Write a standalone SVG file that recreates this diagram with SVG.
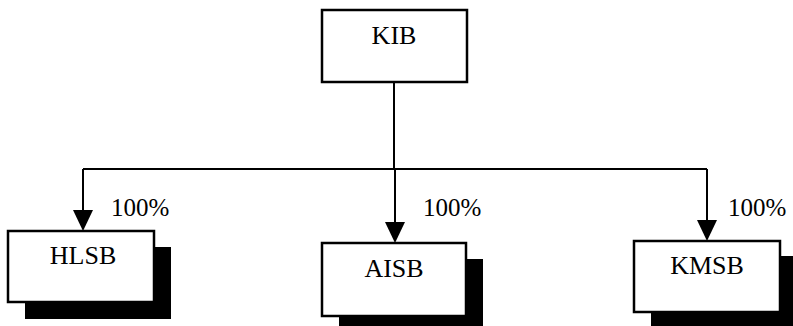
<svg xmlns="http://www.w3.org/2000/svg" width="793" height="326" viewBox="0 0 793 326">
  <style>
    .box { fill: #fff; stroke: #000; stroke-width: 2.5; }
    .shadow { fill: #000; }
    .wire { fill: none; stroke: #000; stroke-width: 2; }
    .head { fill: #000; }
    .label { font-size: 26px; text-anchor: middle; fill: #000; }
    .pct { font-size: 25px; fill: #000; }
  </style>
  <rect width="793" height="326" fill="#fff"/>

  <!-- ownership connectors with their percentage labels -->
  <g id="connectors">
    <path class="wire" d="M394,82 V169"/>
    <path class="wire" d="M83,169 H707"/>
    <path class="wire" d="M83,169 V212"/>
    <path class="wire" d="M395,169 V224"/>
    <path class="wire" d="M707,169 V222"/>
    <path class="head" d="M73,210 L93,210 L83,231 Z"/>
    <path class="head" d="M385,222 L405,222 L395,243 Z"/>
    <path class="head" d="M697,220 L717,220 L707,241 Z"/>
    <text class="pct" x="111" y="216" font-family="Liberation Serif">100%</text>
    <text class="pct" x="423" y="216" font-family="Liberation Serif">100%</text>
    <text class="pct" x="728" y="216" font-family="Liberation Serif">100%</text>
  </g>

  <g id="KIB">
    <rect class="box" x="322" y="10" width="145" height="72"/>
    <text class="label" x="394" y="44" font-family="Liberation Serif">KIB</text>
  </g>

  <g id="HLSB">
    <rect class="shadow" x="25" y="247" width="146" height="72"/>
    <rect class="box" x="8" y="231" width="146" height="71"/>
    <text class="label" x="83" y="264" font-family="Liberation Serif">HLSB</text>
  </g>

  <g id="AISB">
    <rect class="shadow" x="339" y="259" width="144" height="73"/>
    <rect class="box" x="322" y="243" width="144" height="73"/>
    <text class="label" x="394" y="277" font-family="Liberation Serif">AISB</text>
  </g>

  <g id="KMSB">
    <rect class="shadow" x="651" y="256" width="146" height="72"/>
    <rect class="box" x="634" y="241" width="146" height="71"/>
    <text class="label" x="707" y="274" font-family="Liberation Serif">KMSB</text>
  </g>
</svg>
